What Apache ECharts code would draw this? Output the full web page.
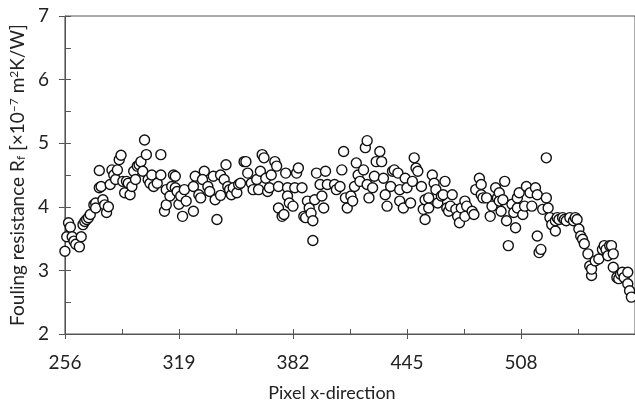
<!DOCTYPE html>
<html>
<head>
<meta charset="utf-8">
<script src="https://cdn.jsdelivr.net/npm/echarts@6/dist/echarts.min.js"></script>
<style>
  html, body { margin: 0; padding: 0; background: #fff; }
  #main { width: 635px; height: 407px; }
</style>
</head>
<body>
<div id="main"></div>
<script>
// pixel position along x
var pixelX = [
  256, 257, 258, 259, 260, 261, 262, 264, 265, 266, 267, 268, 269, 270, 272, 273, 273, 275, 275, 276,
  277, 278, 279, 280, 281, 282, 283, 284, 285, 286, 287, 288, 289, 290, 291, 292, 293, 294, 295, 296,
  297, 298, 299, 300, 301, 302, 303, 304, 305, 307, 309, 309, 311, 312, 312, 314, 315, 316, 317, 317,
  318, 319, 320, 321, 322, 323, 327, 328, 327, 330, 331, 333, 332, 335, 336, 338, 339, 340, 342, 342,
  344, 345, 346, 347, 348, 349, 351, 352, 353, 355, 356, 357, 359, 360, 362, 363, 364, 365, 366, 367,
  368, 369, 370, 372, 373, 374, 374, 376, 377, 378, 379, 379, 380, 382, 383, 384, 385, 387, 388, 389,
  390, 391, 392, 393, 393, 394, 395, 397, 398, 399, 400, 401, 405, 406, 408, 409, 410, 411, 412, 414,
  415, 416, 417, 418, 419, 421, 422, 423, 423, 424, 426, 427, 428, 430, 431, 432, 433, 434, 436, 437,
  438, 440, 441, 441, 443, 444, 445, 447, 448, 449, 450, 451, 453, 454, 455, 455, 457, 457, 459, 460,
  461, 462, 464, 465, 466, 467, 468, 469, 470, 472, 473, 474, 475, 477, 477, 478, 481, 482, 483, 485,
  486, 486, 487, 489, 491, 492, 494, 495, 496, 496, 497, 498, 499, 500, 501, 503, 504, 505, 506, 506,
  507, 509, 510, 511, 513, 514, 516, 517, 517, 518, 519, 520, 522, 522, 523, 524, 525, 527, 527, 528,
  529, 531, 532, 533, 535, 537, 538, 539, 540, 541, 542, 543, 545, 546, 547, 547, 549, 551, 553, 554,
  555, 556, 557, 558, 559, 559, 561, 562, 563, 564, 565, 567, 567, 568, 569
];
// fouling resistance, x10^-7 m2K/W
var foulingR = [
  3.30, 3.53, 3.75, 3.68, 3.53, 3.46, 3.41, 3.37, 3.53, 3.72, 3.77, 3.80, 3.83, 3.88, 4.03, 4.06, 3.98, 4.30, 4.57, 4.32,
  4.11, 4.03, 3.91, 4.00, 4.35, 4.58, 4.50, 4.43, 4.58, 4.74, 4.81, 4.40, 4.22, 4.40, 4.37, 4.19, 4.32, 4.56, 4.43, 4.64,
  4.66, 4.71, 4.56, 5.05, 4.82, 4.43, 4.37, 4.50, 4.32, 4.37, 4.82, 4.50, 3.93, 4.03, 4.27, 4.17, 4.32, 4.50, 4.48, 4.30,
  4.24, 4.04, 4.17, 3.85, 4.27, 4.09, 3.93, 4.48, 4.32, 4.19, 4.14, 4.56, 4.43, 4.32, 4.24, 4.48, 4.11, 3.80, 4.18, 4.50,
  4.43, 4.66, 4.32, 4.27, 4.19, 4.30, 4.22, 4.35, 4.37, 4.71, 4.71, 4.53, 4.37, 4.27, 4.43, 4.27, 4.56, 4.82, 4.77, 4.45,
  4.24, 4.30, 4.50, 4.71, 4.64, 4.32, 3.98, 3.85, 3.88, 4.53, 4.30, 4.17, 4.06, 4.01, 4.30, 4.53, 4.61, 4.30, 3.85, 3.83,
  4.09, 3.98, 3.90, 3.78, 3.47, 4.11, 4.53, 4.35, 4.17, 3.98, 4.56, 4.35, 4.35, 4.27, 4.32, 4.58, 4.87, 4.14, 3.98, 4.17,
  4.09, 4.32, 4.69, 4.50, 4.40, 4.58, 4.93, 5.04, 4.35, 4.14, 4.30, 4.48, 4.71, 4.87, 4.71, 4.45, 4.19, 4.01, 4.32, 4.56,
  4.58, 4.53, 4.27, 4.09, 3.98, 4.45, 4.30, 4.06, 4.40, 4.77, 4.61, 4.56, 4.32, 3.96, 4.11, 3.80, 3.98, 4.14, 4.50, 4.37,
  4.27, 4.06, 4.17, 4.19, 4.40, 3.98, 3.93, 4.01, 4.19, 3.96, 3.85, 3.75, 3.98, 4.09, 3.85, 4.01, 3.93, 3.88, 4.27, 4.45,
  4.35, 4.19, 4.14, 4.14, 3.85, 4.01, 4.30, 4.14, 4.22, 4.09, 3.93, 4.11, 4.40, 3.78, 3.39, 4.04, 3.91, 3.67, 3.98, 4.14,
  4.22, 3.88, 4.01, 4.32, 4.22, 4.01, 4.30, 4.19, 3.54, 3.28, 3.33, 3.96, 4.77, 4.14, 3.98, 3.83, 3.72, 3.62, 3.78, 3.83,
  3.80, 3.83, 3.80, 3.78, 3.83, 3.78, 3.83, 3.80, 3.65, 3.54, 3.49, 3.42, 3.26, 3.07, 2.92, 3.02, 3.15, 3.18, 3.33, 3.39,
  3.33, 3.23, 3.39, 3.39, 3.26, 3.05, 2.89, 2.87, 2.94, 2.97, 2.89, 2.97, 2.79, 2.68, 2.58
];

var xTicks = { min: 256, max: 571, step: 63 };
var yTicks = { min: 2, max: 7, step: 1 };

var points = [];
for (var i = 0; i < pixelX.length; i++) {
  points.push([pixelX[i], foulingR[i]]);
}

var myChart = echarts.init(document.getElementById("main"));
var txt = "#222";
var axisCol = "#555";
var font = "Lato";

myChart.setOption({
  animation: false,
  backgroundColor: "#fff",
  grid: {
    left: 64,
    top: 16,
    right: -1,   // the source picture is cut just before the 571 tick
    bottom: 70,
    show: true,
    borderColor: axisCol,
    borderWidth: 1
  },
  xAxis: [
    {
      type: "value",
      position: "bottom",
      min: xTicks.min,
      max: xTicks.max,
      interval: xTicks.step,
      name: "Pixel x-direction",
      nameLocation: "middle",
      nameGap: 50,
      nameTextStyle: { fontSize: 18, color: txt, fontFamily: font, padding: [0, 36, 0, 0] },
      axisLine: { lineStyle: { color: axisCol, width: 1 } },
      axisTick: { inside: true, length: 5, lineStyle: { color: axisCol } },
      minorTick: { show: true, splitNumber: 2, length: 5, lineStyle: { color: axisCol } },
      axisLabel: { fontSize: 19, color: txt, fontFamily: font, margin: 19, showMaxLabel: false },
      splitLine: { show: false }
    },
    {
      // outer half of the crossing ticks
      type: "value",
      position: "bottom",
      min: xTicks.min,
      max: xTicks.max,
      interval: xTicks.step,
      axisLine: { show: false },
      axisTick: { inside: false, length: 5, lineStyle: { color: axisCol } },
      axisLabel: { show: false },
      splitLine: { show: false }
    }
  ],
  yAxis: [
    {
      type: "value",
      position: "left",
      min: yTicks.min,
      max: yTicks.max,
      interval: yTicks.step,
      name: "Fouling resistance R{sub|f} [×10{sup|−7} m{sup|2}K/W]",
      nameLocation: "middle",
      nameGap: 35,
      nameTextStyle: {
        fontSize: 19,
        color: txt,
        fontFamily: font,
        rich: {
          sub: { fontSize: 12, color: txt, fontFamily: font, verticalAlign: "bottom", lineHeight: 12 },
          sup: { fontSize: 12, color: txt, fontFamily: font, verticalAlign: "top", lineHeight: 12 }
        }
      },
      axisLine: { lineStyle: { color: axisCol, width: 1 } },
      axisTick: { inside: true, length: 6, lineStyle: { color: axisCol } },
      minorTick: { show: true, splitNumber: 2, length: 6, lineStyle: { color: axisCol } },
      axisLabel: { fontSize: 19, color: txt, fontFamily: font, margin: 16 },
      splitLine: { show: false }
    },
    {
      type: "value",
      position: "left",
      min: yTicks.min,
      max: yTicks.max,
      interval: yTicks.step,
      axisLine: { show: false },
      axisTick: { inside: false, length: 6, lineStyle: { color: axisCol } },
      axisLabel: { show: false },
      splitLine: { show: false }
    }
  ],
  series: [
    {
      type: "scatter",
      xAxisIndex: 0,
      yAxisIndex: 0,
      data: points,
      symbol: "circle",
      symbolSize: 10,
      itemStyle: { color: "#fff", borderColor: "#111", borderWidth: 1.4, opacity: 1 }
    }
  ]
});
</script>
</body>
</html>
